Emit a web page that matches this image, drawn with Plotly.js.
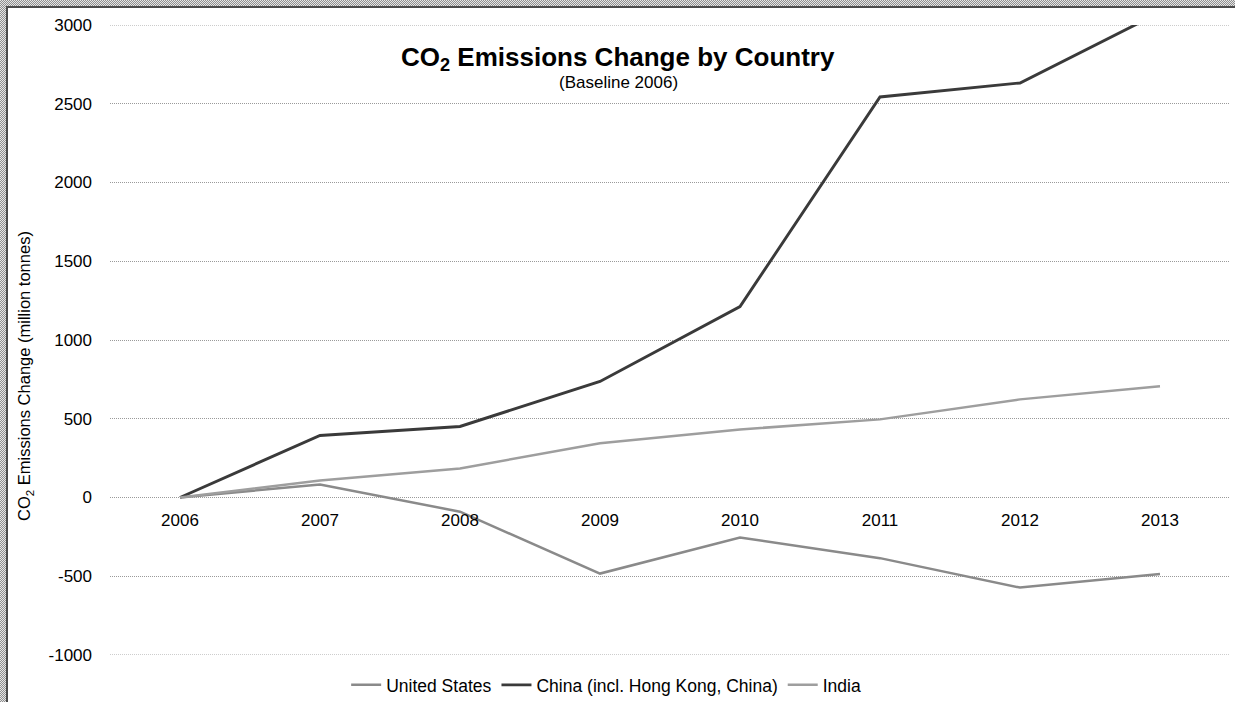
<!DOCTYPE html>
<html>
<head>
<meta charset="utf-8">
<script src="https://cdn.plot.ly/plotly-3.0.1.min.js"></script>
<style>
  html, body { margin: 0; padding: 0; width: 1235px; height: 702px; overflow: hidden;
    background: repeating-conic-gradient(#8f8f8f 0 25%, #e4e4e4 0 50%) 0 0/2px 2px; }
  #frame { position: absolute; left: 6px; top: 6px; width: 1229px; height: 696px;
    border-left: 2px solid #4a4a4a; border-top: 2px solid #4a4a4a; background: #fff; }
  #chart { position: absolute; left: 0; top: 0; width: 1227px; height: 694px; }
</style>
</head>
<body>
<div id="frame"><div id="chart"></div></div>
<script>
const years = ['2006', '2007', '2008', '2009', '2010', '2011', '2012', '2013'];
const unitedStates = [0, 83, -90, -483, -254, -385, -572, -485];
const china = [0, 394, 451, 737, 1212, 2543, 2632, 3080];
const india = [0, 108, 184, 345, 432, 496, 623, 706];
const seriesNames = ['United States', 'China (incl. Hong Kong, China)', 'India'];
const yTicks = [-1000, -500, 0, 500, 1000, 1500, 2000, 2500, 3000];
const yTickLabels = ['-1000', '-500', '0', '500', '1000', '1500', '2000', '2500', '3000'];

const FONT = 'Liberation Sans, Arial, sans-serif';
const GRID = '#9a9a9a';

const traces = [
  { x: years, y: unitedStates, name: seriesNames[0], type: 'scatter', mode: 'lines',
    line: { color: '#8a8a8a', width: 2.5 } },
  { x: years, y: china, name: seriesNames[1], type: 'scatter', mode: 'lines',
    line: { color: '#3a3a3a', width: 2.9 } },
  { x: years, y: india, name: seriesNames[2], type: 'scatter', mode: 'lines',
    line: { color: '#9e9e9e', width: 2.5 } }
];

// edge gridlines (Plotly omits grid at the exact range ends)
const edgeGrid = [yTicks[0], yTicks[yTicks.length - 1]].map(v => ({
  type: 'line', xref: 'paper', yref: 'y', x0: 0, x1: 1, y0: v, y1: v, layer: 'below',
  line: { color: GRID, width: 1, dash: '1px,1px' }
}));

const layout = {
  width: 1227, height: 694,
  margin: { l: 102, r: 5, t: 17, b: 47, autoexpand: false },
  paper_bgcolor: '#ffffff', plot_bgcolor: '#ffffff',
  font: { family: FONT, size: 17, color: '#000' },
  showlegend: true,
  legend: { orientation: 'h', x: 0.443, xanchor: 'center', yref: 'container', y: 0.0245, yanchor: 'middle',
    font: { family: FONT, size: 17.5, color: '#000' }, itemwidth: 30, tracegroupgap: 0 },
  xaxis: { type: 'category', range: [-0.5, 7.5], anchor: 'free', position: 0.25,
    showgrid: false, zeroline: false, showline: false, ticks: '',
    ticklabelstandoff: 10, tickfont: { family: FONT, size: 17, color: '#000' }, fixedrange: true },
  yaxis: { range: [-1000, 3000], tickvals: yTicks, ticktext: yTickLabels, showgrid: true,
    griddash: '1px,1px', gridcolor: GRID, gridwidth: 1, zeroline: false, showline: false, ticks: '',
    ticklabelstandoff: 17, tickfont: { family: FONT, size: 17, color: '#000' }, fixedrange: true },
  shapes: edgeGrid,
  annotations: [
    { text: '<b>CO<sub>2</sub> Emissions Change by Country</b>', xref: 'paper', yref: 'paper',
      x: 0.4536, y: 0.9465, xanchor: 'center', yanchor: 'middle', showarrow: false,
      font: { family: FONT, size: 26, color: '#000' } },
    { text: '(Baseline 2006)', xref: 'paper', yref: 'paper',
      x: 0.4536, y: 0.9095, xanchor: 'center', yanchor: 'middle', showarrow: false,
      font: { family: FONT, size: 17, color: '#000' } },
    { text: 'CO<sub>2</sub> Emissions Change (million tonnes)', xref: 'paper', yref: 'paper',
      x: -0.0759, y: 0.443, xanchor: 'center', yanchor: 'middle', showarrow: false, textangle: -90,
      font: { family: FONT, size: 16.5, color: '#000' } }
  ]
};

Plotly.newPlot('chart', traces, layout, { displayModeBar: false, staticPlot: true });
</script>
</body>
</html>
